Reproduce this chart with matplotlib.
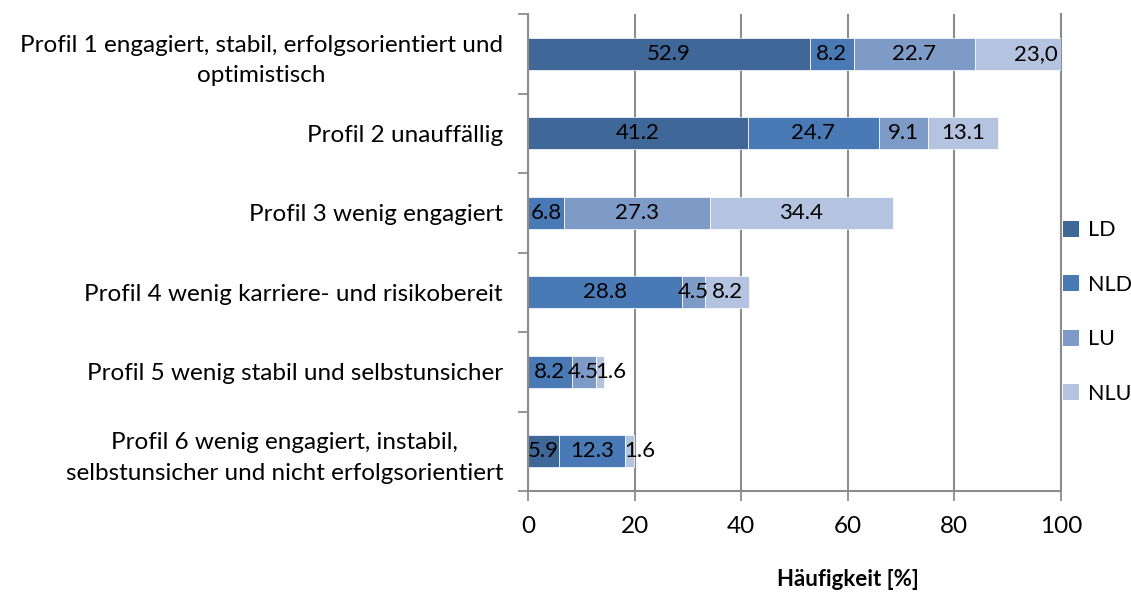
import matplotlib
matplotlib.use("Agg")
import matplotlib.pyplot as plt
from matplotlib.patches import Patch
import numpy as np

plt.rcParams["font.family"] = ["Lato", "DejaVu Sans"]

# ---------------------------------------------------------------- data ---
profiles = [
    "Profil 1 engagiert, stabil, erfolgsorientiert und\noptimistisch",
    "Profil 2 unauffällig",
    "Profil 3 wenig engagiert",
    "Profil 4 wenig karriere- und risikobereit",
    "Profil 5 wenig stabil und selbstunsicher",
    "Profil 6 wenig engagiert, instabil,\nselbstunsicher und nicht erfolgsorientiert",
]
series = ["LD", "NLD", "LU", "NLU"]
ld = [52.9, 41.2, 0, 0, 0, 5.9]
nld = [8.2, 24.7, 6.8, 28.8, 8.2, 12.3]
lu = [22.7, 9.1, 27.3, 4.5, 4.5, 0]
nlu = [23.0, 13.1, 34.4, 8.2, 1.6, 1.6]
# printed labels (the original uses a comma for one of them)
lbl_ld = ["52.9", "41.2", "", "", "", "5.9"]
lbl_nld = ["8.2", "24.7", "6.8", "28.8", "8.2", "12.3"]
lbl_lu = ["22.7", "9.1", "27.3", "4.5", "4.5", ""]
lbl_nlu = ["23,0", "13.1", "34.4", "8.2", "1.6", "1.6"]
xticks = [0, 20, 40, 60, 80, 100]

COLORS = ["#3F6797", "#4A7AB5", "#7E9BC8", "#B4C3DF"]
GRID = "#8C8C8C"
FS_CAT = 17.5
FS_VAL = 16
FS_TICK = 17.5
FS_LEG = 15.5

values = [ld, nld, lu, nlu]
labels = [lbl_ld, lbl_nld, lbl_lu, lbl_nlu]

fig = plt.figure(figsize=(11.31, 5.92), dpi=100)
ax = fig.add_axes([528 / 1131, 101 / 592, 533 / 1131, 477 / 592])

y = np.arange(len(profiles))
left = np.zeros(len(profiles))
for vals, labs, col in zip(values, labels, COLORS):
    vals = np.asarray(vals, dtype=float)
    ax.barh(y, vals, left=left, height=0.4, color=col,
            edgecolor="white", linewidth=0.5, zorder=2)
    for yi, (l, v, t) in enumerate(zip(left, vals, labs)):
        if not t:
            continue
        if v < 2:
            ax.text(l - 0.1, yi, t, ha="left", va="center", fontsize=FS_VAL,
                    color="black", zorder=3)
        else:
            ax.text(l + v / 2, yi, t, ha="center", va="center",
                    fontsize=FS_VAL, color="black", zorder=3)
    left = left + vals

ax.set_xlim(0, 100)
ax.set_ylim(len(profiles) - 0.5, -0.5)
ax.set_xticks(xticks)
ax.set_xticklabels([str(v) for v in xticks], fontsize=FS_TICK)
ax.set_yticks(y)
ax.set_yticklabels(profiles, fontsize=FS_CAT)
for t in ax.get_yticklabels():
    t.set_multialignment("center")
    t.set_linespacing(1.55)
ax.set_yticks(np.arange(-0.5, len(profiles)), minor=True)

ax.tick_params(axis="y", which="major", length=0, pad=18)
ax.tick_params(axis="y", which="minor", length=7, width=1.3, color=GRID,
               direction="out")
ax.tick_params(axis="x", which="major", length=7, width=1.3, color=GRID,
               direction="out", pad=11)

ax.grid(axis="x", color=GRID, linewidth=1.5, zorder=0)
ax.set_axisbelow(True)
for side in ["top", "right"]:
    ax.spines[side].set_visible(False)
for side in ["left", "bottom"]:
    ax.spines[side].set_color(GRID)
    ax.spines[side].set_linewidth(1.5)
ax.axvline(100, color=GRID, linewidth=1.5, zorder=0, clip_on=False)

fig.text(848 / 1131, 1 - 580 / 592, "Häufigkeit [%]", ha="center",
         va="center", fontsize=16, fontweight="bold")

handles = [Patch(facecolor=c, edgecolor="none") for c in COLORS]
fig.legend(handles, series, loc="center left",
           bbox_to_anchor=(1063 / 1131, 1 - 312 / 592), frameon=False,
           fontsize=FS_LEG, handlelength=0.75, handleheight=0.75,
           handletextpad=0.4, labelspacing=1.6, borderaxespad=0,
           borderpad=0)

fig.savefig("out.png", dpi=100)
